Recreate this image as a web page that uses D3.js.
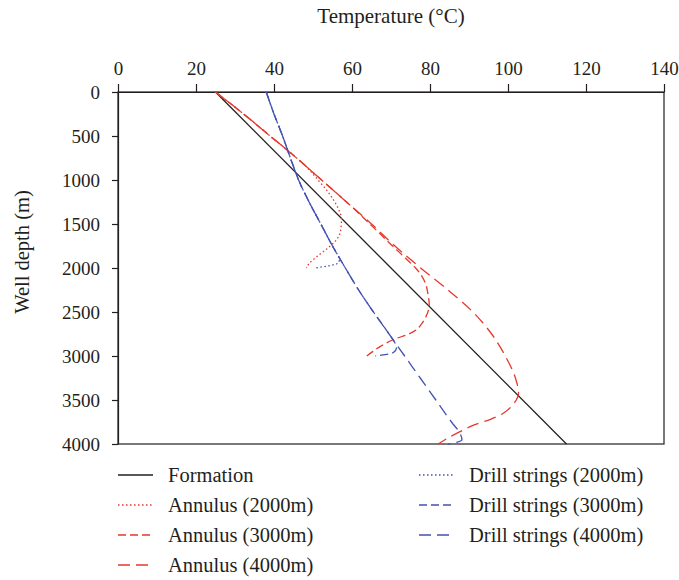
<!DOCTYPE html>
<html>
<head>
<meta charset="utf-8">
<script src="https://cdn.jsdelivr.net/npm/d3@7"></script>
<style>
    body { margin: 0; background: #fff; }
    svg { display: block; }
    text { font-family: "Liberation Serif", "DejaVu Serif", serif; fill: #231f20; }
</style>
</head>
<body>
<div id="chart"></div>
<script>
// Axis ticks
const tempTicks = [0, 20, 40, 60, 80, 100, 120, 140];
const depthTicks = [0, 500, 1000, 1500, 2000, 2500, 3000, 3500, 4000];

// Formation temperature (linear gradient)
const formationDepth = [0, 4000];
const formationTemp = [25, 115];

// Annulus, well depth 2000 m
const annulus2000Depth = [0, 250, 500, 700, 850, 1000, 1150, 1300, 1450, 1570, 1680, 1780, 1870, 1950, 2000];
const annulus2000Temp = [25, 32.2, 39, 44.5, 48.3, 51.3, 54.1, 56.2, 57.3, 57.1, 56, 53.6, 51, 49, 48.3];

// Annulus, well depth 3000 m
const annulus3000Depth = [0, 250, 500, 750, 1000, 1250, 1500, 1750, 1900, 2000, 2150, 2300, 2420, 2550, 2650, 2700, 2760, 2800, 2890, 2950, 3000];
const annulus3000Temp = [25, 32.2, 39, 45.8, 52.2, 58.6, 64.6, 70.4, 74, 76.3, 78.6, 79.5, 79.8, 79, 77.6, 76.6, 74, 71.4, 67.3, 65.3, 63.8];

// Annulus, well depth 4000 m
const annulus4000Depth = [0, 250, 500, 750, 1000, 1250, 1500, 1750, 2000, 2250, 2500, 2750, 3000, 3250, 3420, 3550, 3650, 3720, 3780, 3860, 3940, 4000];
const annulus4000Temp = [25, 32.2, 39, 45.8, 52.2, 58.6, 65, 71, 77.6, 84.6, 91, 95.8, 99.3, 101.9, 102.7, 101.3, 98.8, 95.5, 91.5, 87.7, 84.3, 82.1];

// Drill strings, well depth 2000 m
const drill2000Depth = [0, 250, 500, 750, 1000, 1250, 1500, 1750, 1850, 1900, 1945, 1975, 2000];
const drill2000Temp = [38, 40, 42.2, 44.2, 46.3, 49, 52, 55, 56.3, 56.8, 56.4, 54, 50.5];

// Drill strings, well depth 3000 m
const drill3000Depth = [0, 250, 500, 750, 1000, 1250, 1500, 1750, 2000, 2250, 2500, 2750, 2850, 2910, 2960, 2985, 3000];
const drill3000Temp = [38, 40, 42.2, 44.2, 46.3, 49, 52, 55, 58.3, 61.7, 65.5, 69.5, 71, 71.4, 70.6, 68.5, 66];

// Drill strings, well depth 4000 m
const drill4000Depth = [0, 250, 500, 750, 1000, 1250, 1500, 1750, 2000, 2250, 2500, 2750, 3000, 3250, 3500, 3750, 3880, 3950, 3980, 4000];
const drill4000Temp = [38, 40, 42.2, 44.2, 46.3, 49, 52, 55, 58.3, 61.7, 65.5, 69.5, 73.5, 77.5, 81.5, 85.5, 87.7, 88.2, 87, 84.7];

const red = "#e6392d";
const blue = "#4352b3";

const series = [
    {name: "Formation", depth: formationDepth, temp: formationTemp, color: "#231f20", dash: null, col: 0, row: 0},
    {name: "Annulus (2000m)", depth: annulus2000Depth, temp: annulus2000Temp, color: red, dash: "1.5,2.5", col: 0, row: 1},
    {name: "Annulus (3000m)", depth: annulus3000Depth, temp: annulus3000Temp, color: red, dash: "8,4", col: 0, row: 2},
    {name: "Annulus (4000m)", depth: annulus4000Depth, temp: annulus4000Temp, color: red, dash: "12,6", col: 0, row: 3},
    {name: "Drill strings (2000m)", depth: drill2000Depth, temp: drill2000Temp, color: blue, dash: "1.5,2.5", col: 1, row: 0},
    {name: "Drill strings (3000m)", depth: drill3000Depth, temp: drill3000Temp, color: blue, dash: "8,4", col: 1, row: 1},
    {name: "Drill strings (4000m)", depth: drill4000Depth, temp: drill4000Temp, color: blue, dash: "12,6", col: 1, row: 2}
];

const width = 679, height = 580;
const margin = {top: 92, left: 118, right: 15, bottom: 136};

const svg = d3.select("#chart")
    .append("svg")
        .attr("width", width)
        .attr("height", height);

const x = d3.scaleLinear().domain([0, 140]).range([margin.left, width - margin.right]);
const y = d3.scaleLinear().domain([0, 4000]).range([margin.top, height - margin.bottom]);

// Frame (right and bottom sides)
svg.append("rect")
    .attr("x", x(0))
    .attr("y", y(0))
    .attr("width", x(140) - x(0))
    .attr("height", y(4000) - y(0))
    .attr("fill", "none")
    .attr("stroke", "#231f20")
    .attr("stroke-width", 1.2);

// Temperature axis on top
const xAxis = svg.append("g")
    .attr("transform", "translate(0," + y(0) + ")")
    .call(d3.axisTop(x).tickValues(tempTicks).tickSize(8).tickSizeOuter(0).tickPadding(9));

// Depth axis on the left, plain numbers (no thousands separator)
const yAxis = svg.append("g")
    .attr("transform", "translate(" + x(0) + ",0)")
    .call(d3.axisLeft(y).tickValues(depthTicks).tickFormat(d3.format("d"))
        .tickSize(6).tickSizeOuter(0).tickPadding(12));

[xAxis, yAxis].forEach(ax => {
    ax.selectAll("path, line").attr("stroke", "#231f20").attr("stroke-width", 1.2);
    ax.selectAll("text").style("font-size", "19px").attr("fill", "#231f20");
});
yAxis.selectAll("text").attr("dy", "0.35em");

// Axis titles
svg.append("text")
    .attr("x", (x(0) + x(140)) / 2)
    .attr("y", 23)
    .attr("text-anchor", "middle")
    .style("font-size", "21px")
    .text("Temperature (°C)");

svg.append("text")
    .attr("transform", "translate(29," + 252 + ") rotate(-90)")
    .attr("text-anchor", "middle")
    .style("font-size", "20.5px")
    .text("Well depth (m)");

// Curves
const line = d3.line()
    .x(d => x(d[1]))
    .y(d => y(d[0]))
    .curve(d3.curveMonotoneY);

series.forEach(s => {
    const pts = s.depth.map((dep, i) => [dep, s.temp[i]]);
    svg.append("path")
        .datum(pts)
        .attr("d", line)
        .attr("fill", "none")
        .attr("stroke", s.color)
        .attr("stroke-width", 1.3)
        .attr("stroke-dasharray", s.dash);
});

// Legend
const legendCols = [118, 419];
const legendRows = [475, 505, 535, 565];

const legend = svg.append("g");
series.forEach(s => {
    const lx = legendCols[s.col];
    const ly = legendRows[s.row];
    legend.append("line")
        .attr("x1", lx)
        .attr("x2", lx + 35)
        .attr("y1", ly)
        .attr("y2", ly)
        .attr("stroke", s.color)
        .attr("stroke-width", 1.3)
        .attr("stroke-dasharray", s.dash);
    legend.append("text")
        .attr("x", lx + 50)
        .attr("y", ly)
        .attr("dy", "0.33em")
        .style("font-size", "20.5px")
        .text(s.name);
});
</script>
</body>
</html>
